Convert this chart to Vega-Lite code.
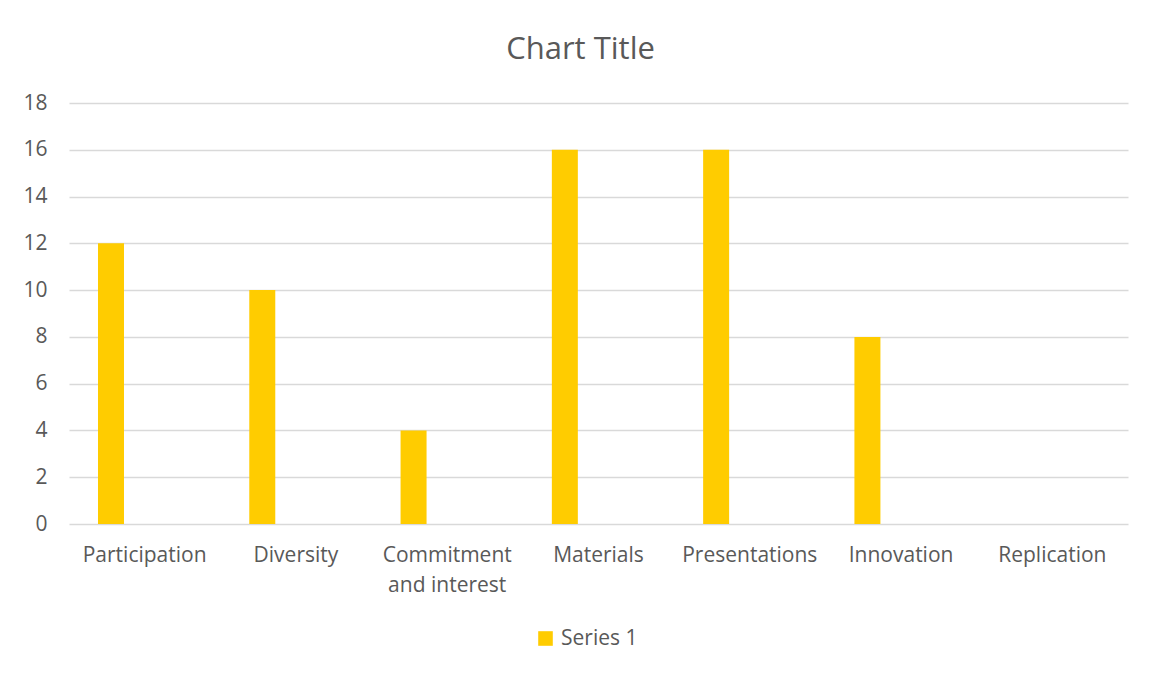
{
  "$schema": "https://vega.github.io/schema/vega-lite/v6.json",
  "autosize": {"type": "none"},
  "width": 1059,
  "height": 421,
  "padding": {"left": 69, "top": 103, "right": 21, "bottom": 151},
  "background": "white",
  "title": {
    "text": "Chart Title",
    "font": "Open Sans",
    "fontSize": 31,
    "fontWeight": "normal",
    "color": "#595959",
    "anchor": "middle",
    "dx": -18,
    "baseline": "alphabetic",
    "offset": 2
  },
  "data": {
    "values": [
      {"category": "Participation", "series": "Series 1", "value": 12},
      {"category": "Diversity", "series": "Series 1", "value": 10},
      {"category": "Commitment and interest", "series": "Series 1", "value": 4},
      {"category": "Materials", "series": "Series 1", "value": 16},
      {"category": "Presentations", "series": "Series 1", "value": 16},
      {"category": "Innovation", "series": "Series 1", "value": 8},
      {"category": "Replication", "series": "Series 1", "value": 0}
    ]
  },
  "mark": {"type": "bar"},
  "encoding": {
    "x": {
      "field": "category",
      "type": "nominal",
      "sort": null,
      "scale": {"paddingInner": 0, "paddingOuter": 0},
      "axis": {
        "title": null,
        "labelAngle": 0,
        "labelFont": "Open Sans",
        "labelFontSize": 21,
        "labelColor": "#595959",
        "labelPadding": 20,
        "labelLineHeight": 30,
        "labelExpr": "datum.label == 'Commitment and interest' ? ['Commitment', 'and interest'] : datum.label",
        "ticks": false,
        "domain": false,
        "grid": false
      }
    },
    "xOffset": {
      "field": "series",
      "type": "nominal",
      "scale": {
        "domain": ["Series 1", "Series 2", "Series 3", "Series 4"],
        "paddingInner": 0,
        "paddingOuter": 0.9096,
        "align": 0.613
      }
    },
    "y": {
      "field": "value",
      "type": "quantitative",
      "scale": {"domain": [0, 18], "nice": false},
      "axis": {
        "title": null,
        "values": [0, 2, 4, 6, 8, 10, 12, 14, 16, 18],
        "labelFont": "Open Sans",
        "labelFontSize": 21,
        "labelColor": "#595959",
        "labelPadding": 22,
        "ticks": false,
        "domain": false,
        "grid": true,
        "gridColor": "#D9D9D9",
        "gridWidth": 1.3
      }
    },
    "color": {
      "field": "series",
      "type": "nominal",
      "scale": {"domain": ["Series 1"], "range": ["#FFCC00"]},
      "legend": {
        "title": null,
        "orient": "none",
        "legendX": 466,
        "legendY": 525,
        "padding": 0,
        "symbolType": "square",
        "symbolSize": 213,
        "symbolStrokeWidth": 0,
        "symbolOpacity": 1,
        "labelFont": "Open Sans",
        "labelFontSize": 21,
        "labelColor": "#595959",
        "labelOffset": 5
      }
    }
  },
  "config": {
    "view": {"stroke": null}
  }
}
